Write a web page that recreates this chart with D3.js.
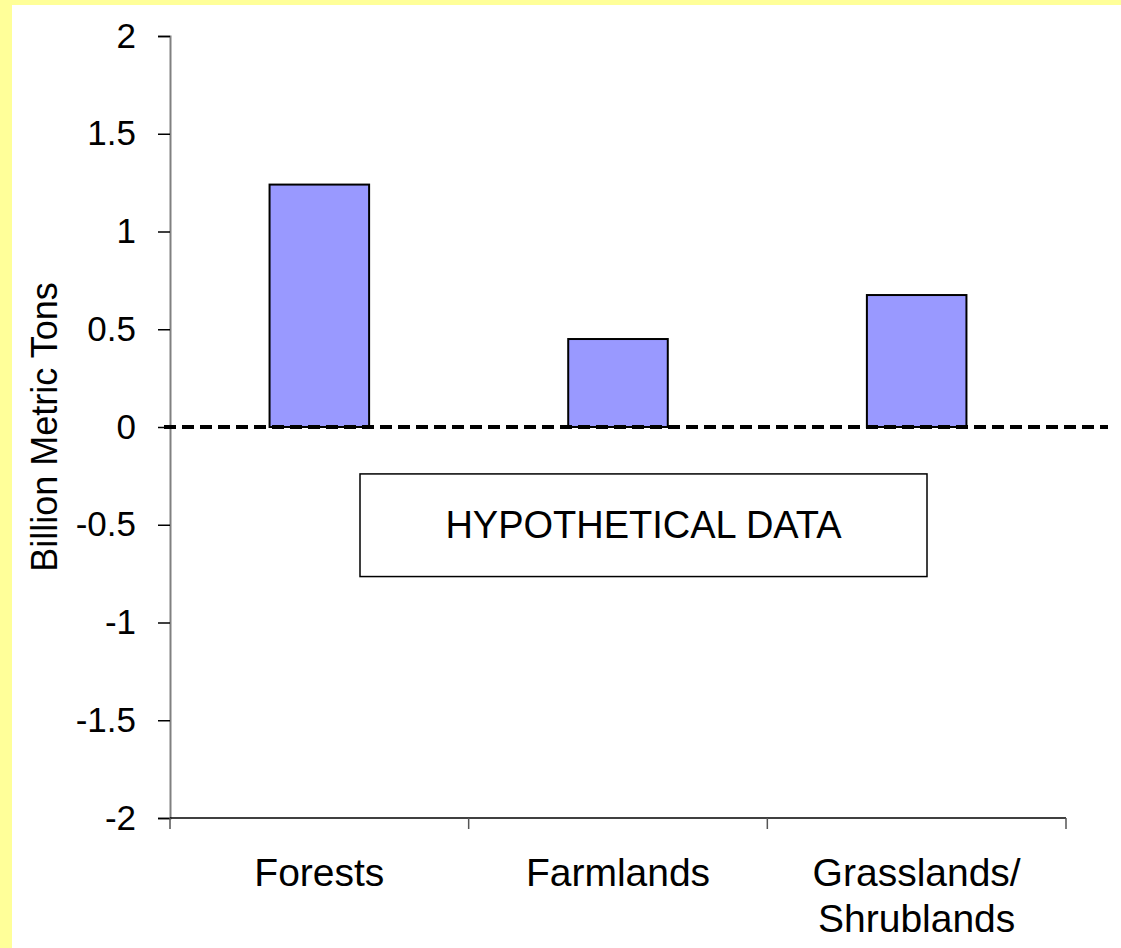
<!DOCTYPE html>
<html>
<head>
<meta charset="utf-8">
<script src="https://cdn.jsdelivr.net/npm/d3@7"></script>
<style>
  body { margin: 0; background: #FFFF99; }
  text { font-family: "Liberation Sans", Arial, sans-serif; fill: #000; }
</style>
</head>
<body>
<div id="main"></div>
<script>
const ctx = {
    w: 1121,
    h: 948
};
const margin = { top: 36, right: 55, bottom: 130, left: 170 };

// data
const categories = ['Forests', 'Farmlands', 'Grasslands/\nShrublands'];
const values = [1.24, 0.45, 0.675];
const yTicks = [2, 1.5, 1, 0.5, 0, -0.5, -1, -1.5, -2];
const yLabel = 'Billion Metric Tons';
const noteText = 'HYPOTHETICAL DATA';

function createViz() {
    const svg = d3.select("#main").append("svg")
        .attr("width", ctx.w)
        .attr("height", ctx.h);

    // yellow frame + white chart area
    svg.append("rect").attr("width", ctx.w).attr("height", ctx.h).attr("fill", "#FFFF99");
    svg.append("rect").attr("x", 12).attr("y", 5)
        .attr("width", ctx.w - 12).attr("height", ctx.h - 5).attr("fill", "#fff");

    const plotW = ctx.w - margin.left - margin.right;
    const plotH = ctx.h - margin.top - margin.bottom;

    const x = d3.scaleBand()
        .domain(categories)
        .range([margin.left, margin.left + plotW])
        .padding(0);

    const y = d3.scaleLinear()
        .domain([-2, 2])
        .range([margin.top + plotH, margin.top]);

    // y axis
    const yAxis = svg.append("g")
        .attr("transform", `translate(${margin.left},0)`)
        .call(d3.axisLeft(y).tickValues(yTicks).tickSize(12).tickPadding(22)
            .tickFormat(d => String(d)));
    yAxis.select(".domain").attr("stroke", "#808080").attr("stroke-width", 2);
    yAxis.selectAll(".tick line").attr("stroke", "#000").attr("stroke-width", 1.5);
    yAxis.selectAll(".tick text")
        .style("font-size", "35px")
        .style("font-family", "Liberation Sans, Arial, sans-serif");

    // x axis line and category boundary ticks
    const xg = svg.append("g");
    xg.append("line")
        .attr("x1", margin.left).attr("x2", margin.left + plotW)
        .attr("y1", y(-2)).attr("y2", y(-2))
        .attr("stroke", "#000").attr("stroke-width", 1.5);
    const bounds = categories.map(c => x(c)).concat([x(categories[categories.length - 1]) + x.bandwidth()]);
    xg.selectAll(".bt").data(bounds).enter().append("line")
        .attr("x1", d => d).attr("x2", d => d)
        .attr("y1", y(-2)).attr("y2", y(-2) + 11)
        .attr("stroke", "#555").attr("stroke-width", 1.5);

    // category labels
    const lbl = xg.selectAll(".cat").data(categories).enter().append("text")
        .attr("text-anchor", "middle")
        .style("font-size", "39px")
        .attr("transform", d => `translate(${x(d) + x.bandwidth() / 2},${y(-2) + 68})`);
    lbl.selectAll("tspan").data(d => d.split("\n")).enter().append("tspan")
        .attr("x", 0)
        .attr("dy", (d, i) => i === 0 ? 0 : 46)
        .text(d => d);

    // bars
    const bw = x.bandwidth() / 3;
    svg.append("g").selectAll("rect")
        .data(categories.map((c, i) => ({ c: c, v: values[i] })))
        .enter().append("rect")
        .attr("x", d => x(d.c) + bw)
        .attr("y", d => y(d.v))
        .attr("width", bw)
        .attr("height", d => y(0) - y(d.v))
        .attr("fill", "#9999FF")
        .attr("stroke", "#000")
        .attr("stroke-width", 2);

    // dashed zero line
    svg.append("line")
        .attr("x1", margin.left - 6).attr("x2", 1108)
        .attr("y1", y(0)).attr("y2", y(0))
        .attr("stroke", "#000").attr("stroke-width", 4)
        .attr("stroke-dasharray", "12,6");

    // note box
    const bx = 360, bxw = 567;
    svg.append("rect")
        .attr("x", bx).attr("y", y(-0.24))
        .attr("width", bxw).attr("height", y(-0.765) - y(-0.24))
        .attr("fill", "#fff").attr("stroke", "#000").attr("stroke-width", 1.5);
    svg.append("text")
        .attr("x", bx + bxw / 2).attr("y", y(-0.57))
        .attr("text-anchor", "middle")
        .style("font-size", "38px")
        .text(noteText);

    // y axis title
    svg.append("text")
        .attr("transform", `translate(57,${y(0)}) rotate(-90)`)
        .attr("text-anchor", "middle")
        .style("font-size", "36px")
        .text(yLabel);
}
createViz();
</script>
</body>
</html>
